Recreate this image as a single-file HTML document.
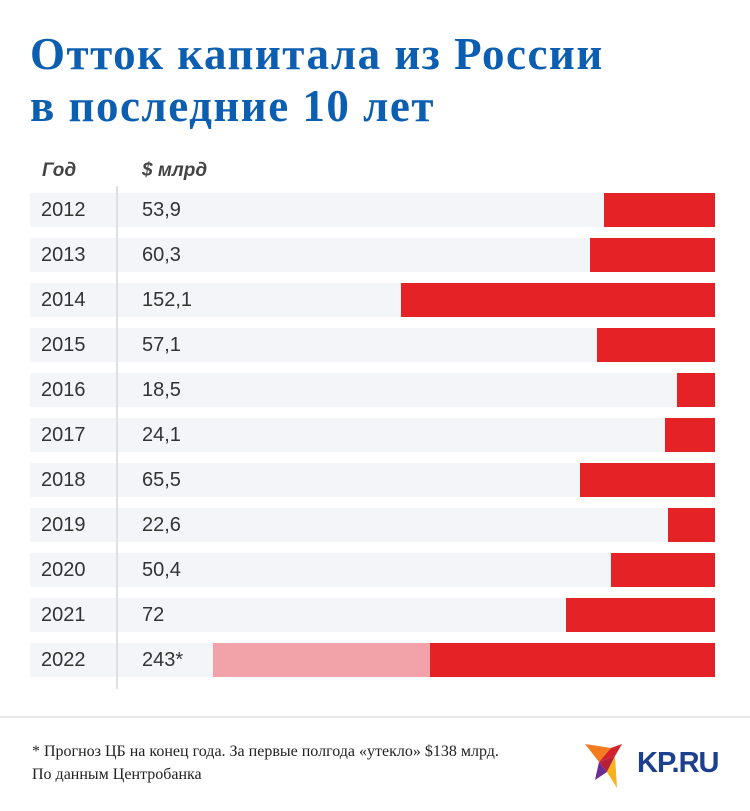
<!DOCTYPE html><html><head><meta charset="utf-8"><style>
body{margin:0;width:750px;height:811px;background:#fff;position:relative;overflow:hidden;font-family:"Liberation Sans",sans-serif}
.t{position:absolute;left:30px;top:28px;font-family:"Liberation Serif",serif;font-weight:bold;color:#0c5eb0;font-size:45px;line-height:52px;letter-spacing:1.5px}
.h{position:absolute;top:160px;font-style:italic;font-weight:bold;font-size:19px;color:#444}
.row{position:absolute;left:30px;width:685px;height:34px;background:#f4f5f8}
.row span{position:absolute;top:6px;font-size:20px;color:#333}
.bar{position:absolute;right:0;top:0;height:34px;background:#e52226}
.v{position:absolute;left:116px;top:186px;width:2px;height:503px;background:#dde0e5;z-index:2}
.f{position:absolute;left:0;top:716px;width:750px;height:2px;background:#e5e7ea}
.n{position:absolute;left:32px;font-family:"Liberation Serif",serif;font-size:16px;color:#222}
</style></head><body>
<div class="t">Отток капитала из России<br>в последние 10 лет</div>
<div class="h" style="left:42px">Год</div><div class="h" style="left:142px">$ млрд</div>
<div class="v"></div>
<div class="row" style="top:193px"><span style="left:11px">2012</span><span style="left:112px">53,9</span><div class="bar" style="width:111px"></div></div>
<div class="row" style="top:238px"><span style="left:11px">2013</span><span style="left:112px">60,3</span><div class="bar" style="width:125px"></div></div>
<div class="row" style="top:283px"><span style="left:11px">2014</span><span style="left:112px">152,1</span><div class="bar" style="width:314px"></div></div>
<div class="row" style="top:328px"><span style="left:11px">2015</span><span style="left:112px">57,1</span><div class="bar" style="width:118px"></div></div>
<div class="row" style="top:373px"><span style="left:11px">2016</span><span style="left:112px">18,5</span><div class="bar" style="width:38px"></div></div>
<div class="row" style="top:418px"><span style="left:11px">2017</span><span style="left:112px">24,1</span><div class="bar" style="width:50px"></div></div>
<div class="row" style="top:463px"><span style="left:11px">2018</span><span style="left:112px">65,5</span><div class="bar" style="width:135px"></div></div>
<div class="row" style="top:508px"><span style="left:11px">2019</span><span style="left:112px">22,6</span><div class="bar" style="width:47px"></div></div>
<div class="row" style="top:553px"><span style="left:11px">2020</span><span style="left:112px">50,4</span><div class="bar" style="width:104px"></div></div>
<div class="row" style="top:598px"><span style="left:11px">2021</span><span style="left:112px">72</span><div class="bar" style="width:149px"></div></div>
<div class="row" style="top:643px"><span style="left:11px">2022</span><span style="left:112px">243*</span><div class="bar" style="width:502px;background:#f2a3a9"></div><div class="bar" style="width:285px"></div></div>
<div class="f"></div>
<div class="n" style="top:743px">* Прогноз ЦБ на конец года. За первые полгода «утекло» $138 млрд.</div>
<div class="n" style="top:766px">По данным Центробанка</div>
<svg style="position:absolute;left:585px;top:742px" width="50" height="48" viewBox="0 0 50 48">
<polygon points="0,2 26,6 14,20" fill="#f47b20"/><polygon points="26,6 37,2 30,14 14,20" fill="#d2232a"/><polygon points="14,20 30,14 22,30" fill="#b51f3a"/><polygon points="14,20 22,30 10,38" fill="#6a2c91"/><polygon points="22,30 30,14 32,46" fill="#f7b21b"/></svg>
<div style="position:absolute;left:637px;top:747px;font-weight:bold;font-size:29px;color:#1d3f8f;letter-spacing:-1px">KP.RU</div>
</body></html>
